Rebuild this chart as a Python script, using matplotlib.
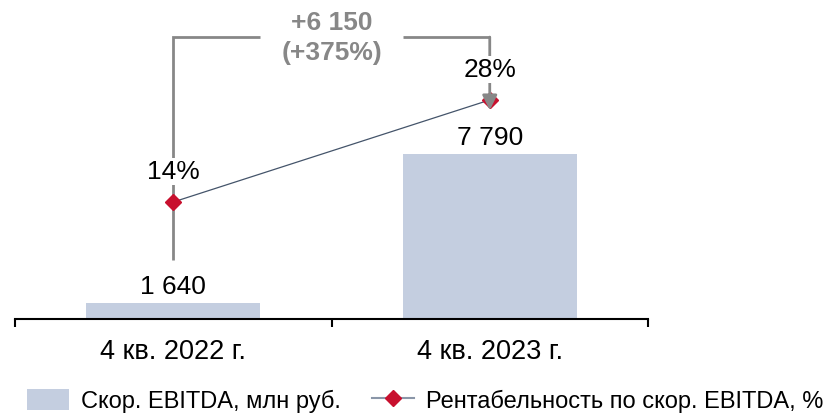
import matplotlib
matplotlib.use("Agg")
import matplotlib.pyplot as plt
import matplotlib.transforms as mtransforms
from matplotlib.lines import Line2D
from matplotlib.patches import Patch

plt.rcParams['font.family'] = ['Liberation Sans', 'DejaVu Sans']

categories = ['4 кв. 2022 г.', '4 кв. 2023 г.']
ebitda = [1640, 7790]
margin = [14, 28]
bar_label = 'Скор. EBITDA, млн руб.'
line_label = 'Рентабельность по скор. EBITDA, %'

BAR_COLOR = '#c4cee0'
LINE_COLOR = '#44546a'
MARKER_COLOR = '#c8102e'
GRAY = '#878787'


def fmt(v):
    return f'{v:,}'.replace(',', ' ')


fig = plt.figure(figsize=(8.3, 4.14), dpi=100)
ax = fig.add_axes([15 / 830, 1 - 320 / 414, 633 / 830, 320 / 414])
x = list(range(len(categories)))

ax.bar(x, ebitda, width=0.55, color=BAR_COLOR, zorder=1)
ax.set_xlim(-0.5, 1.5)
ax.set_ylim(980, 14190)
for i, v in enumerate(ebitda):
    ax.annotate(fmt(v), (i, v), xytext=(0, 7.5), textcoords='offset points',
                ha='center', va='baseline', fontsize=19)

for s in ['top', 'right', 'left']:
    ax.spines[s].set_visible(False)
ax.spines['bottom'].set_linewidth(1.5)
ax.set_yticks([])
ax.set_xticks([-0.5, 0.5, 1.5])
ax.set_xticklabels([])
ax.tick_params(axis='x', which='major', direction='out', length=6, width=1.5)
ax.set_xticks(x, minor=True)
ax.set_xticklabels(categories, minor=True, fontsize=19.5)
ax.tick_params(axis='x', which='minor', length=0, pad=14)

ax2 = ax.twinx()
ax2.set_ylim(-2.05, 41.85)
ax2.axis('off')

# bracket with the change
tr = mtransforms.blended_transform_factory(ax2.transData, ax2.transAxes)
top = 0.881
ax2.plot([0, 0, 0.275], [0.184, top, top], transform=tr, color=GRAY, lw=2,
         zorder=1, solid_capstyle='butt', solid_joinstyle='miter')
ax2.plot([0.727, 1], [top, top], transform=tr, color=GRAY, lw=2, zorder=1,
         solid_capstyle='butt')
ax2.annotate('', xy=(1, margin[1] - 1.4), xytext=(1, top),
             xycoords='data', textcoords=tr,
             arrowprops=dict(arrowstyle='-|>', color=GRAY, lw=2,
                             mutation_scale=22, shrinkA=0, shrinkB=0),
             zorder=4)
diff = ebitda[1] - ebitda[0]
pct = round(diff / ebitda[0] * 100)
ax2.text(0.5, top, f'+{fmt(diff)}\n(+{pct}%)', transform=tr, ha='center',
         va='center', fontsize=19, fontweight='bold', color=GRAY,
         linespacing=1.3, zorder=5)

ax2.plot(x, margin, color=LINE_COLOR, lw=0.9, marker='D', markersize=8,
         markerfacecolor=MARKER_COLOR, markeredgecolor=MARKER_COLOR, zorder=3)
for i, v in enumerate(margin):
    ax2.annotate(f'{v}%', (i, v), xytext=(0, 17), textcoords='offset points',
                 ha='center', va='baseline', fontsize=19, zorder=5,
                 bbox=dict(facecolor='white', edgecolor='none', pad=1))

handles = [Patch(facecolor=BAR_COLOR, edgecolor='none'),
           Line2D([], [], color='#8a96a8', lw=1.5, marker='D', markersize=8,
                  markerfacecolor=MARKER_COLOR, markeredgecolor=MARKER_COLOR)]
fig.legend(handles, [bar_label, line_label], loc='lower center',
           bbox_to_anchor=(0.512, -0.05), ncol=2, frameon=False, fontsize=17,
           handlelength=1.8, handleheight=0.95, columnspacing=1.3,
           handletextpad=0.5)

fig.savefig('out.png', dpi=100)
